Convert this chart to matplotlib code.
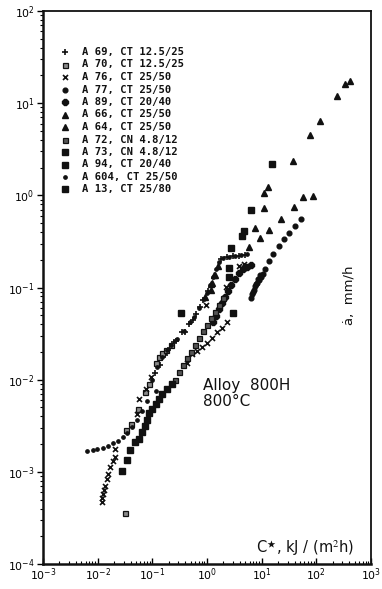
import numpy as np
import matplotlib
matplotlib.use("Agg")
import matplotlib.pyplot as plt
from matplotlib.ticker import LogLocator, NullFormatter

# ---- dados (C* em kJ/(m2 h), da/dt em mm/h) ----
a69_c = [0.165, 0.251, 0.351, 0.471, 0.631, 0.846, 1.04, 1.80, 2.31, 2.97, 3.82, 4.91,
         0.1135, 0.14, 0.172, 0.212, 0.273, 0.398, 0.556, 0.746]
a69_a = [0.0188, 0.0259, 0.0325, 0.0406, 0.0521, 0.074, 0.0925, 0.206, 0.216, 0.222, 0.222, 0.227,
         0.01167, 0.0146, 0.0183, 0.0218, 0.0266, 0.0333, 0.0449, 0.0621]

a70_c = [0.031, 0.0323, 0.0415, 0.0556, 0.0747, 0.0882, 0.118, 0.134, 0.152, 0.18, 0.221]
a70_a = [0.000355, 0.00282, 0.00327, 0.00475, 0.00726, 0.00887, 0.015, 0.0174, 0.0197, 0.0212, 0.0235]

a76_c = [0.0118, 0.0118, 0.0123, 0.0129, 0.0134, 0.0146, 0.0152, 0.0165, 0.0187, 0.0204, 0.0204,
         0.0534, 0.058, 0.0778, 0.096, 0.433, 0.534, 0.658, 0.811, 1.0, 1.23, 1.52, 1.87, 2.31,
         0.96, 2.21, 3.82, 4.71]
a76_a = [0.000468, 0.000516, 0.00057, 0.00063, 0.000697, 0.00083, 0.00094, 0.00112, 0.0013, 0.00144, 0.00175,
         0.0042, 0.0061, 0.00783, 0.0108, 0.0153, 0.0188, 0.0207, 0.0229, 0.0253, 0.0286, 0.0325, 0.0368, 0.0427,
         0.0653, 0.102, 0.173, 0.182]

a77_c = [6.31, 6.58, 7.16, 7.46, 8.11, 8.82, 9.59, 10.4, 11.3, 13.4, 15.8, 20.4, 25.1, 31.0, 41.5, 53.4,
         6.86, 7.78, 8.46, 9.2]
a77_a = [0.0778, 0.0859, 0.0948, 0.105, 0.113, 0.122, 0.131, 0.141, 0.160, 0.195, 0.233, 0.284, 0.339,
         0.393, 0.469, 0.557, 0.0903, 0.110, 0.125, 0.135]

a89_c = [1.29, 1.46, 1.65, 1.87, 2.12, 2.41, 2.73, 3.23, 3.82, 4.52, 5.34, 6.31]
a89_a = [0.0427, 0.0496, 0.059, 0.0686, 0.0797, 0.0925, 0.107, 0.125, 0.145, 0.160, 0.168, 0.177]

a66_c = [1.18, 1.23, 1.4, 1.58, 5.81, 7.46, 10.9, 10.9, 12.9, 38.2, 77.8, 118, 241, 337, 415,
         0.92, 1.18, 1.34]
a66_a = [0.0948, 0.113, 0.138, 0.173, 0.277, 0.446, 0.734, 1.07, 1.24, 2.37, 4.54, 6.43, 12.0, 16.2, 17.4,
         0.0797, 0.110, 0.135]

a64_c = [9.2, 13.4, 22.2, 39.8, 58.0, 88.2]
a64_a = [0.347, 0.424, 0.557, 0.752, 0.966, 0.99]

a72_c = [0.262, 0.31, 0.366, 0.433, 0.512, 0.605, 0.716, 0.846, 1.0, 1.18, 1.4, 1.65, 1.95]
a72_a = [0.01, 0.012, 0.0143, 0.017, 0.0202, 0.024, 0.0286, 0.0341, 0.0396, 0.0472, 0.0548, 0.0653, 0.0778]

a73_c = [0.0273, 0.0351, 0.0398, 0.0491, 0.058, 0.0658, 0.0747, 0.0811, 0.0882, 0.1, 0.118, 0.134,
         0.152, 0.187, 0.231]
a73_a = [0.00101, 0.00133, 0.00171, 0.00209, 0.00225, 0.00268, 0.00311, 0.00361, 0.0043, 0.00475,
         0.00538, 0.0061, 0.00692, 0.00783, 0.00887]

a94_c = [15.2, 6.31, 4.71, 4.33, 2.73, 2.51, 2.51]
a94_a = [2.2, 0.698, 0.413, 0.365, 0.271, 0.164, 0.131]

a604_c = [0.0063, 0.0081, 0.0096, 0.0123, 0.0152, 0.0187, 0.0231, 0.0285, 0.0351, 0.0433, 0.0534,
          0.0658, 0.0811, 0.118, 0.1, 0.123, 0.152, 0.187, 0.221, 0.285, 0.382, 0.491, 0.58, 0.716,
          0.882, 1.0, 1.13, 1.29, 1.46, 1.65, 1.95, 2.51, 3.23, 4.15, 5.34]
a604_a = [0.00167, 0.00171, 0.00175, 0.0018, 0.00189, 0.00204, 0.00214, 0.00237, 0.00261, 0.00303, 0.00361,
          0.00452, 0.00581, 0.00745, 0.01, 0.0136, 0.0174, 0.0212, 0.024, 0.0279, 0.0341, 0.0427, 0.0484,
          0.0605, 0.0758, 0.0881, 0.107, 0.131, 0.160, 0.191, 0.211, 0.216, 0.222, 0.227, 0.233]

a13_c = [0.337, 2.97]
a13_a = [0.0535, 0.0535]

rotulos = ["A 69, CT 12.5/25", "A 70, CT 12.5/25", "A 76, CT 25/50", "A 77, CT 25/50",
           "A 89, CT 20/40", "A 66, CT 25/50", "A 64, CT 25/50", "A 72, CN 4.8/12",
           "A 73, CN 4.8/12", "A 94, CT 20/40", "A 604, CT 25/50", "A 13, CT 25/80"]

K = "#111111"
CINZA = "#8a8a8a"
estilos = [
    dict(marker="+", ms=4.5, mew=1.2, color=K),
    dict(marker="s", ms=3.6, mew=0.9, mfc=CINZA, mec=K),
    dict(marker="x", ms=3.6, mew=1.2, color=K),
    dict(marker="o", ms=3.4, color=K),
    dict(marker="8", ms=4.0, color=K),
    dict(marker="^", ms=4.4, color=K),
    dict(marker="^", ms=4.4, color=K),
    dict(marker="s", ms=3.6, mew=0.9, mfc="#555555", mec=K),
    dict(marker="s", ms=3.8, color=K),
    dict(marker="s", ms=4.2, color=K),
    dict(marker="o", ms=2.4, color=K),
    dict(marker="s", ms=4.2, color=K),
]
series = [(a69_c, a69_a), (a70_c, a70_a), (a76_c, a76_a), (a77_c, a77_a), (a89_c, a89_a),
          (a66_c, a66_a), (a64_c, a64_a), (a72_c, a72_a), (a73_c, a73_a), (a94_c, a94_a),
          (a604_c, a604_a), (a13_c, a13_a)]

plt.rcParams["mathtext.fontset"] = "stix"

fig = plt.figure(figsize=(3.82, 5.89), dpi=100)
ax = fig.add_axes([43 / 382, 25 / 589, 328 / 382, 553 / 589])

for (c, a), st in zip(series, estilos):
    ax.plot(c, a, linestyle="none", **st)

ax.set_xscale("log"); ax.set_yscale("log")
ax.set_xlim(1e-3, 1e3); ax.set_ylim(1e-4, 1e2)
ax.xaxis.set_major_locator(LogLocator(base=10, numticks=10))
ax.yaxis.set_major_locator(LogLocator(base=10, numticks=10))
ax.xaxis.set_minor_locator(LogLocator(base=10, subs=np.arange(2, 10), numticks=20))
ax.yaxis.set_minor_locator(LogLocator(base=10, subs=np.arange(2, 10), numticks=20))
ax.xaxis.set_minor_formatter(NullFormatter()); ax.yaxis.set_minor_formatter(NullFormatter())
ax.tick_params(axis="y", which="major", direction="out", length=4, width=1.0, labelsize=7.8, pad=2)
ax.tick_params(axis="y", which="minor", direction="out", length=2.2, width=0.8)
ax.tick_params(axis="x", which="major", direction="in", length=4, width=1.0, labelsize=7.8, pad=2)
ax.tick_params(axis="x", which="minor", direction="in", length=2.2, width=0.8)
for lado, lw in [("left", 1.8), ("bottom", 1.8), ("top", 1.3), ("right", 1.3)]:
    ax.spines[lado].set_linewidth(lw)
    ax.spines[lado].set_color(K)

# legenda desenhada a mao (posicoes em fracao do eixo)
for i, (rot, st) in enumerate(zip(rotulos, estilos)):
    yy = 1 - (52 + i * 12.5 - 11) / 553
    ax.plot([0.067], [yy], transform=ax.transAxes, linestyle="none", **st)
    ax.text(0.118, yy, rot, transform=ax.transAxes, va="center", ha="left",
            family="DejaVu Sans Mono", fontweight="bold", fontsize=7.6, color=K)

ax.text(0.488, 0.309, "Alloy  800H\n800\u00b0C", transform=ax.transAxes, ha="left",
        va="center", fontsize=11, color=K, linespacing=1.1)
ax.text(0.933, 0.486, "\u0227,  mm/h", transform=ax.transAxes, rotation=90,
        ha="center", va="center", fontsize=9.5, color=K)
ax.text(0.80, 0.029, "C$^{\\bigstar}$, kJ / (m$^{2}$h)", transform=ax.transAxes,
        ha="center", va="center", fontsize=10.5, color=K)

fig.savefig("out.png", dpi=100)
